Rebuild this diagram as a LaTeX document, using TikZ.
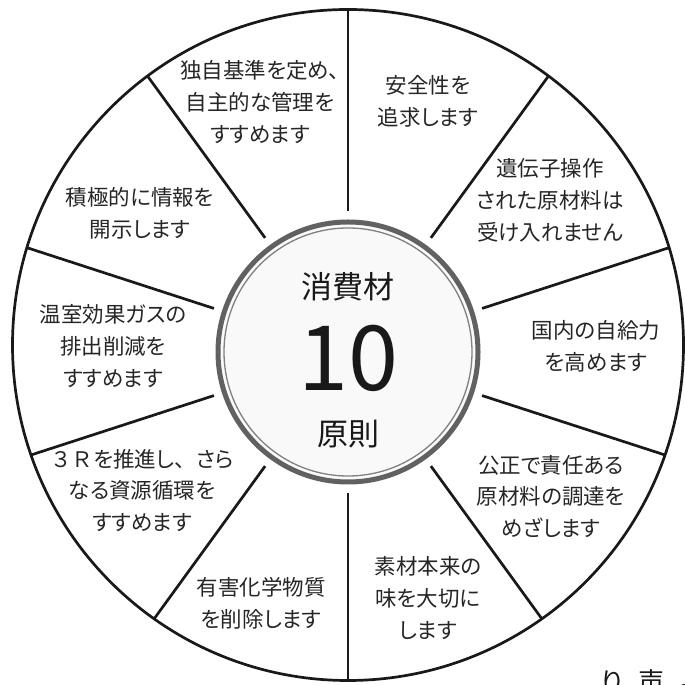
\documentclass[tikz,border=0pt]{standalone}
\usepackage{fontspec}
\setmainfont[RawFeature=+palt]{Noto Sans CJK JP}
\newfontfamily\nopalt{Noto Sans CJK JP}
\usetikzlibrary{calc}
\begin{document}
\begin{tikzpicture}[x=1pt,y=1pt,
  lbl/.style={align=center, font=\fontsize{21.5}{31.8}\selectfont, text=black!85, inner sep=0pt},
  ctr/.style={text=black!90, inner sep=0pt},
  spoke/.style={line width=2.7pt, black!90},
  rim/.style={line width=2.7pt, black!90}]
\useasboundingbox (0,0) rectangle (685,685);
\fill[white] (0,0) rectangle (685,685);
\coordinate (O) at (348,340);
\coordinate (C) at (348,333);
% spokes
\begin{scope}
  \clip (O) circle (335.5);
  \foreach \a in {90,54,...,-234}
    \draw[spoke] ($(C)+(\a:141)$) -- ($(C)+(\a:420)$);
\end{scope}
\draw[rim] (O) circle (335.5);
% hub
\draw[fill=gray!5, draw=black!62, line width=5pt] (C) circle (130);
\draw[draw=black!50, line width=1.3pt] (C) circle (124);
\node[ctr, font=\fontsize{31}{31}\selectfont] (t1) at (348,398) {消費材};
\node[ctr, font=\fontsize{90}{90}\selectfont] (t2) at (348,327) {10};
\node[ctr, font=\fontsize{31}{31}\selectfont] (t3) at (348,251) {原則};
% segment labels
\node[lbl] (n1) at (260,583) {独自基準を定め、\\自主的な管理を\\すすめます};
\node[lbl] (n2) at (428,583.5) {安全性を\\追求します};
\node[lbl] (n3) at (550,484.5) {遺伝子操作\\された原材料は\\受け入れません};
\node[lbl] (n4) at (596,339) {国内の自給力\\を高めます};
\node[lbl] (n5) at (551,188.5) {公正で責任ある\\原材料の調達を\\めざします};
\node[lbl] (n6) at (428,87) {素材本来の\\味を大切に\\します};
\node[lbl] (n7) at (261,82) {有害化学物質\\を削除します};
\node[lbl] (n8) at (142,194.5) {{\nopalt ３Ｒ}を推進し{\nopalt 、}さら\\なる資源循環を\\すすめます};
\node[lbl] (n9) at (113,339) {温室効果ガスの\\排出削減を\\すすめます};
\node[lbl] (n10) at (140,472) {積極的に情報を\\開示します};
% cut-off text at bottom right
\node[ctr, font=\fontsize{26}{26}\selectfont, anchor=base] (c1) at (612,-6) {り};
\node[ctr, font=\fontsize{26}{26}\selectfont, anchor=base] (c2) at (651,-6) {声};
\node[ctr, font=\fontsize{26}{26}\selectfont, anchor=base] (c3) at (689,-6) {よ};
\end{tikzpicture}
\end{document}
